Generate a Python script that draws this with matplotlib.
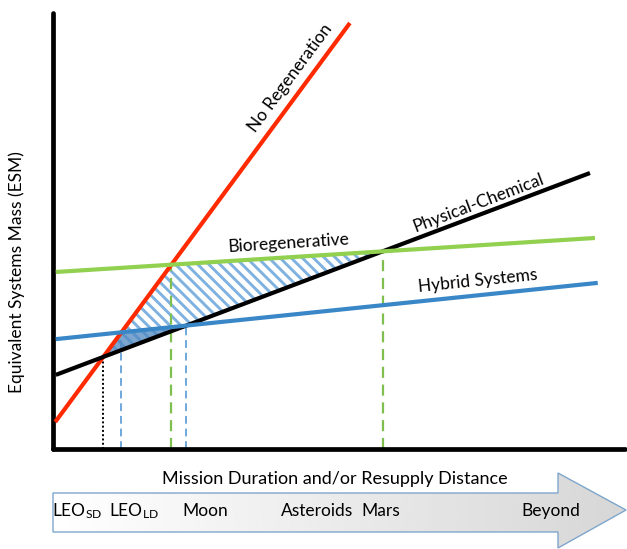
import numpy as np
import matplotlib.pyplot as plt
from matplotlib.patches import Polygon

plt.rcParams['font.family'] = ['Lato', 'DejaVu Sans']
plt.rcParams['mathtext.default'] = 'regular'
plt.rcParams['hatch.linewidth'] = 2.1
plt.rcParams['hatch.color'] = '#7fb2e0'

# === DATA (conceptual units, x = duration, y = ESM) ===
line_names = ["No Regeneration", "Physical-Chemical", "Hybrid Systems", "Bioregenerative"]
line_x0 = [0.04, 0.05, 0.05, 0.05]
line_x1 = [5.33, 9.64, 9.78, 9.73]
line_y0 = [0.62, 1.70, 2.52, 4.06]
line_y1 = [9.77, 6.33, 3.81, 4.84]
line_colors = ["#ff2a00", "#000000", "#3a87c8", "#92d050"]

stage_labels = ["LEO$_{SD}$", "LEO$_{LD}$", "Moon", "Asteroids", "Mars", "Beyond"]
stage_px = [77, 134, 205, 317, 381, 551]


def line_fn(i):
    k = (line_y1[i] - line_y0[i]) / (line_x1[i] - line_x0[i])
    return k, line_y0[i] - k * line_x0[i]


def cross(i, j):
    k1, b1 = line_fn(i)
    k2, b2 = line_fn(j)
    x = (b2 - b1) / (k1 - k2)
    return x, k1 * x + b1


RED, BLACK, BLUE, GREEN = 0, 1, 2, 3
p_rk = cross(RED, BLACK)
p_rb = cross(RED, BLUE)
p_rg = cross(RED, GREEN)
p_bk = cross(BLUE, BLACK)
p_gk = cross(GREEN, BLACK)

W, H = 627, 549
fig = plt.figure(figsize=(W / 100, H / 100), dpi=100)

# background axis in pixel coords for the arrow
bg = fig.add_axes([0, 0, 1, 1])
bg.set_xlim(0, W)
bg.set_ylim(H, 0)
bg.axis("off")

arrow_pts = [(53, 493), (558, 493), (558, 473), (626, 510), (558, 548), (558, 532), (53, 532)]
arrow = Polygon(arrow_pts, closed=True, facecolor="none", edgecolor="#7ea6cc", lw=1.0, zorder=3)
bg.add_patch(arrow)
grad = np.linspace(1.0, 0.84, 256).reshape(1, -1)
im = bg.imshow(grad, cmap="gray", vmin=0, vmax=1, extent=[53, 626, 548, 473], aspect="auto", zorder=2)
im.set_clip_path(arrow)

for lab, px in zip(stage_labels, stage_px):
    bg.text(px, 511, lab, fontsize=12.5, ha="center", va="center", zorder=4)
bg.text(335, 479, "Mission Duration and/or Resupply Distance", fontsize=13, ha="center", va="center")

# main axis (x: 55.7 px per unit, y: 43.6 px per unit)
ax = fig.add_axes([53 / W, 1 - 449 / H, (625 - 53) / W, (449 - 13) / H])
ax.set_xlim(0, (625 - 53) / 55.7)
ax.set_ylim(0, 10)
ax.patch.set_alpha(0)
for s in ["top", "right"]:
    ax.spines[s].set_visible(False)
for s in ["left", "bottom"]:
    ax.spines[s].set_linewidth(3.4)
    ax.spines[s].set_capstyle("round")
ax.set_xticks([])
ax.set_yticks([])

# hatched region and darker part under the hybrid line
hatch_poly = Polygon([p_rk, p_rg, p_gk], closed=True, facecolor="none", edgecolor="#7fb2e0",
                     hatch="\\\\\\", lw=0, zorder=1)
ax.add_patch(hatch_poly)
dark_poly = Polygon([p_rk, p_rb, p_bk], closed=True, facecolor="#4f88c0", alpha=0.75, lw=0, zorder=1.5)
ax.add_patch(dark_poly)

# vertical guide lines
ax.plot([p_rk[0], p_rk[0]], [0, p_rk[1]], color="black", lw=1.4, ls=(0, (1, 1.2)), zorder=1)
ax.plot([p_rb[0], p_rb[0]], [0, p_rb[1]], color="#6fa8dc", lw=1.4, ls=(0, (4, 2.5)), zorder=1)
ax.plot([p_bk[0], p_bk[0]], [0, p_bk[1]], color="#6fa8dc", lw=1.4, ls=(0, (4, 2.5)), zorder=1)
ax.plot([p_rg[0], p_rg[0]], [0, p_rg[1]], color="#7fbf4f", lw=1.6, ls=(0, (5, 3)), zorder=1)
ax.plot([p_gk[0], p_gk[0]], [0, p_gk[1]], color="#7fbf4f", lw=1.6, ls=(0, (5, 3)), zorder=1)

for i in [RED, BLACK, BLUE, GREEN]:
    ax.plot([line_x0[i], line_x1[i]], [line_y0[i], line_y1[i]], color=line_colors[i],
            lw=3.0, solid_capstyle="butt", zorder=3 + i)

# line labels (pixel positions)
def px2d(px, py):
    return (px - 53) / 55.7, (449 - py) / 43.6

ax.text(*px2d(290, 78), "No Regeneration", rotation=53.5, fontsize=12.5, ha="center", va="center")
ax.text(*px2d(478, 203), "Physical-Chemical", rotation=20.7, fontsize=12.5, ha="center", va="center")
ax.text(*px2d(289, 243), "Bioregenerative", rotation=3.6, fontsize=12.5, ha="center", va="center")
ax.text(*px2d(478, 281), "Hybrid Systems", rotation=5.9, fontsize=12.5, ha="center", va="center")

fig.text(17 / W, 1 - 272 / H, "Equivalent Systems Mass (ESM)", rotation=90, fontsize=12.5,
         ha="center", va="center")

fig.savefig("out.png", dpi=100)
